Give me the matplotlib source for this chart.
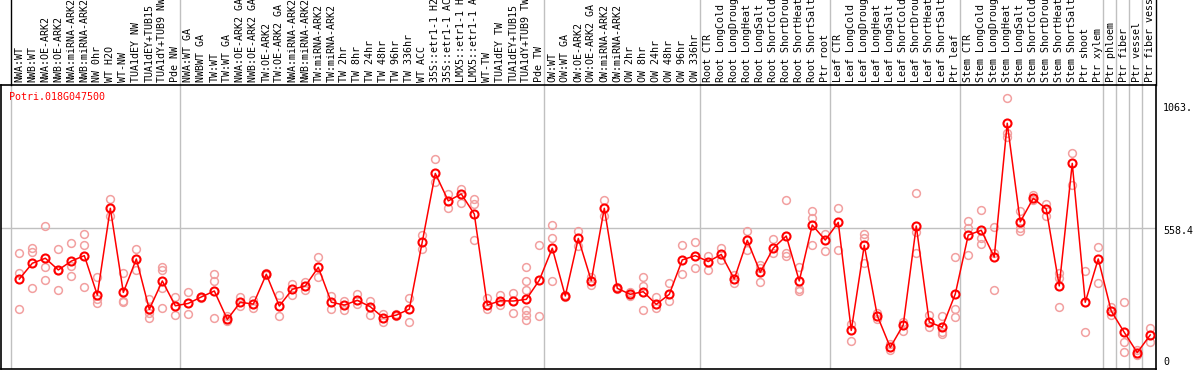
import numpy as np
from matplotlib import pyplot as plt

gene_id = 'Potri.018G047500'

sample_labels = [
    'NWA:WT', 'NWB:WT', 'NWA:OE-ARK2', 'NWB:OE-ARK2', 'NWA:miRNA-ARK2',
    'NWB:miRNA-ARK2', 'NW 0hr', 'WT H2O', 'WT-NW', 'TUA1dEY NW',
    'TUA1dEY+TUB15', 'TUA1dY+TUB9 NW', 'Pde NW',
    'NWA:WT GA', 'NWBWT GA', 'TW:WT', 'TW:WT GA', 'NWA:OE-ARK2 GA',
    'NWB:OE-ARK2 GA', 'TW:OE-ARK2', 'TW:OE-ARK2 GA', 'NWA:miRNA-ARK2',
    'NWB:miRNA-ARK2', 'TW:miRNA-ARK2', 'TW:miRNA-ARK2', 'TW 2hr', 'TW 8hr',
    'TW 24hr', 'TW 48hr', 'TW 96hr', 'TW 336hr', 'WT ACC', '35S::etr1-1 H2',
    '35S::etr1-1 AC', 'LMX5::etr1-1 H', 'LMX5::etr1-1 A', 'WT-TW',
    'TUA1dEY TW', 'TUA1dEY+TUB15', 'TUA1dY+TUB9 TW', 'Pde TW',
    'OW:WT', 'OW:WT GA', 'OW:OE-ARK2', 'OW:OE-ARK2 GA', 'OW:miRNA-ARK2',
    'OW:miRNA-ARK2', 'OW 2hr', 'OW 8hr', 'OW 24hr', 'OW 48hr', 'OW 96hr',
    'OW 336hr',
    'Root CTR', 'Root LongCold', 'Root LongDroug', 'Root LongHeat',
    'Root LongSalt', 'Root ShortCold', 'Root ShortDrou', 'Root ShortHeat',
    'Root ShortSalt', 'Ptr root',
    'Leaf CTR', 'Leaf LongCold', 'Leaf LongDroug', 'Leaf LongHeat',
    'Leaf LongSalt', 'Leaf ShortCold', 'Leaf ShortDrou', 'Leaf ShortHeat',
    'Leaf ShortSalt', 'Ptr leaf',
    'Stem CTR', 'Stem LongCold', 'Stem LongDroug', 'Stem LongHeat',
    'Stem LongSalt', 'Stem ShortCold', 'Stem ShortDrou', 'Stem ShortHeat',
    'Stem ShortSalt', 'Ptr shoot', 'Ptr xylem',
    'Ptr phloem', 'Ptr fiber', 'Ptr vessel', 'Ptr fiber vess',
]

group_sizes = [13, 28, 12, 10, 10, 11, 1, 1, 1, 1]

mean_values = [
    346, 412, 433, 384, 421, 444, 279, 642, 290, 430, 219, 338, 234,
    244, 271, 296, 177, 249, 241, 366, 233, 303, 317, 395, 249, 237, 257,
    230, 184, 195, 220, 502, 788, 673, 702, 618, 237, 255, 254, 261, 341,
    475, 275, 516, 339, 642, 307, 282, 293, 240, 282, 426, 444,
    419, 449, 346, 508, 374, 475, 526, 338, 572, 509,
    583, 131, 487, 193, 60, 154, 568, 166, 144, 283,
    530, 550, 438, 998, 585, 684, 639, 317, 830, 249, 430,
    212, 123, 38, 112,
]

replicate_values = [
    [454, 370, 220], [477, 460, 310], [567, 398, 342], [472, 300, 384],
    [497, 402, 357], [533, 488, 313], [354, 262, 245], [680, 610],
    [370, 251, 255], [472, 382], [262, 202, 184], [398, 384, 307, 223],
    [271, 195], [290, 198],
    [271, 265], [367, 339, 182], [190, 170], [270, 233], [258, 226],
    [370, 362], [279, 191], [325, 279], [335, 299], [438, 354],
    [276, 221], [255, 218], [284, 240], [255, 195], [201, 168],
    [200, 190], [265, 167], [530, 472], [848, 753], [700, 642],
    [723, 663], [680, 659, 509], [267, 221], [281, 237], [286, 203],
    [398, 338, 300, 216, 195, 175], [487, 191],
    [572, 516, 338], [280, 270], [548, 484], [356, 321], [677, 610],
    [312, 303], [290, 275], [353, 317, 215], [270, 226], [328, 255],
    [487, 366], [501, 391],
    [442, 382], [475, 426], [363, 328], [547, 467], [405, 391, 332],
    [513, 454], [675, 456, 444], [398, 304, 297], [631, 600, 487],
    [534, 462],
    [642, 466], [158, 85], [534, 519, 412], [203, 178], [76, 48],
    [168, 128], [705, 544, 454], [195, 144], [191, 126, 115],
    [437, 220, 186],
    [589, 558, 445], [634, 516, 494], [562, 454, 300], [1102, 956, 942],
    [631, 558, 548], [697, 677], [660, 610], [370, 349, 228], [875, 740],
    [380, 126], [479, 328],
    [230, 195], [249, 81, 39], [49, 26], [142, 84],
]

axis_labels = ['1063.', '558.4', '0']
axis_values = [1063, 558.4, 0]


def plot_profile():
    W, H = 1194, 370
    fig = plt.figure(figsize=(W / 100, H / 100), dpi=100)
    ax = fig.add_axes([1 / W, 1 / H, 1154.7 / W, 284 / H])

    mono = 'DejaVu Sans Mono'
    grey = '#c0c0c0'
    x = np.arange(len(mean_values))

    # replicates first so the mean line sits on top
    for i, reps in enumerate(replicate_values):
        ax.plot([i] * len(reps), reps, 'o', mfc='none', mec='#f2a0a0',
                ms=5.6, mew=1.1, zorder=2)
    ax.plot(x, mean_values, '-', color='red', lw=1.1, marker='o',
            mfc='none', mec='red', ms=5.8, mew=1.5, zorder=3)

    ax.axhline(558.4, color=grey, lw=1, zorder=1)

    header = 85 / 284
    breaks = np.concatenate([[0], np.cumsum(group_sizes)[:-1]]) - 0.62
    xt = ax.get_xaxis_transform()
    for j, b in enumerate(breaks):
        ax.axvline(b, color=grey, lw=1, zorder=1)
        ax.plot([b, b], [1, 1 + header], transform=xt, clip_on=False,
                color='black' if j == 0 else grey, lw=1)
    ax.plot([1, 1], [1, 1 + header], transform=ax.transAxes,
            clip_on=False, color='black', lw=1)

    for i, lab in enumerate(sample_labels):
        ax.text(i, 1 + 3 / 284, lab, transform=xt, rotation=90,
                ha='center', va='bottom', fontsize=7.2, family=mono)

    yt = ax.get_yaxis_transform()
    for lab, v in zip(axis_labels, axis_values):
        dy = -12 if v == 558.4 else 0
        ax.text(1.0063, v + dy, lab, transform=yt, ha='left',
                va='center', fontsize=7.2, family=mono)

    ax.text(0.0069, 0.958, gene_id, transform=ax.transAxes, color='red',
            ha='left', va='center', fontsize=7.2, family=mono)

    ax.set_xlim(-1.41, 87.42)
    ax.set_ylim(-30.5, 1158)
    ax.set_xticks([])
    ax.set_yticks([])
    for s in ax.spines.values():
        s.set_color('black')
        s.set_linewidth(1.2)

    fig.savefig('out.png', dpi=100)
    plt.close(fig)


def main():
    plot_profile()


if __name__ == '__main__':
    main()
